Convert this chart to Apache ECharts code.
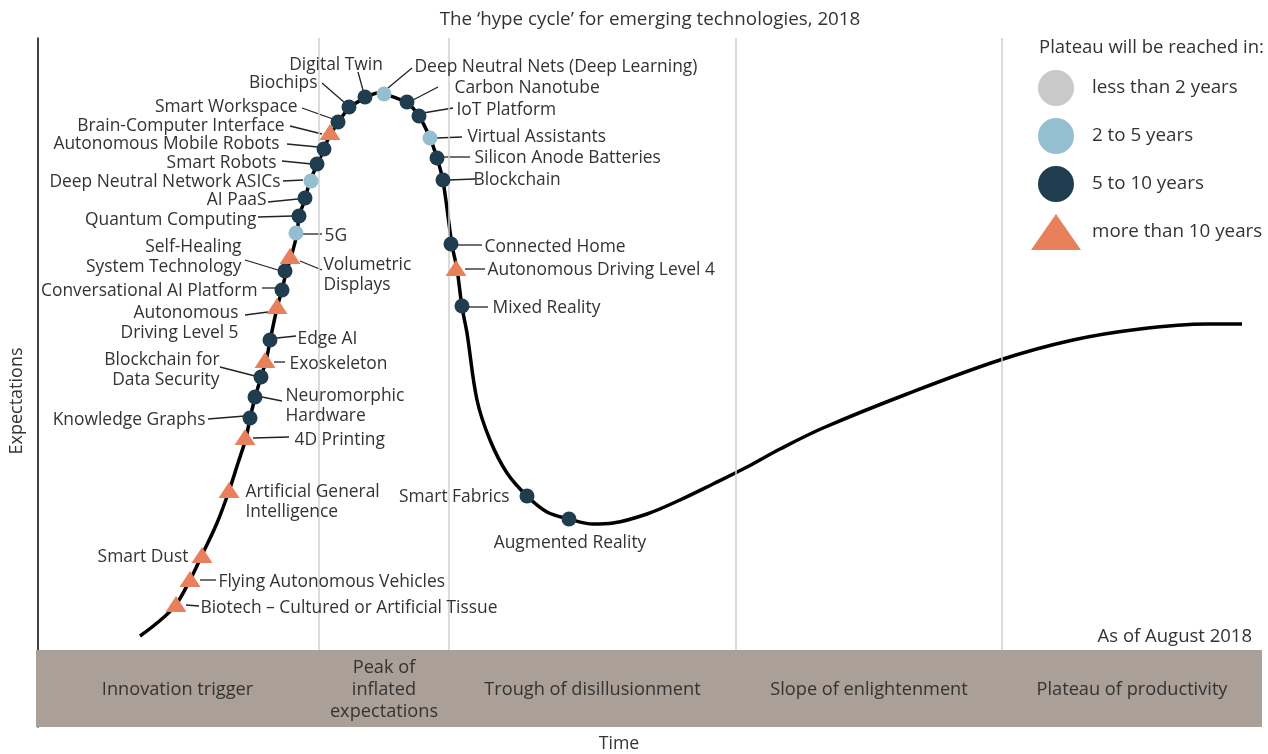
<!DOCTYPE html>
<html>
<head>
<meta charset="utf-8">
<title>Hype cycle 2018</title>
<script src="https://cdn.jsdelivr.net/npm/echarts@6/dist/echarts.min.js"></script>
<style>
html, body { margin: 0; padding: 0; background: #fff; }
#chart { width: 1268px; height: 754px; }
</style>
</head>
<body>
<div id="chart"></div>
<script>
// hype curve (time, expectations)
var curveX = [10.2, 11.9, 13.7, 15.2, 16.4, 17.9, 19.1, 20.0, 20.8, 21.2, 21.7, 22.3, 22.8, 23.2, 23.9, 24.4, 24.8, 25.3, 25.9, 26.1, 26.7, 27.2, 27.9, 28.6, 29.2, 30.0, 31.1, 32.7, 34.0, 34.6, 36.9, 38.1, 39.2, 39.9, 40.5, 41.4, 41.9, 42.4, 42.9, 43.9, 45.2, 46.9, 48.9, 50.9, 53.1, 55.5, 57.5, 60.9, 64.2, 67.5, 70.9, 74.2, 78.5, 86.9, 96.2, 103.5, 110.2, 116.9, 120.4];
var curveY = [1.4, 2.7, 4.4, 7.0, 9.5, 12.7, 15.9, 18.7, 21.2, 23.2, 25.2, 27.3, 28.9, 30.9, 34.2, 36.0, 37.7, 39.3, 41.6, 43.3, 45.1, 46.9, 48.5, 50.1, 51.5, 52.7, 54.2, 55.2, 55.7, 55.6, 54.7, 53.4, 51.2, 49.2, 46.9, 40.5, 38.1, 34.3, 31.7, 25.0, 21.0, 17.7, 15.4, 13.8, 13.1, 12.6, 12.7, 13.6, 15.0, 16.6, 18.3, 20.1, 22.2, 25.6, 29.0, 31.0, 32.1, 32.6, 32.6];

var techNames = [
  'Biotech – Cultured or Artificial Tissue', 'Flying Autonomous Vehicles', 'Smart Dust',
  'Artificial General Intelligence', '4D Printing', 'Knowledge Graphs', 'Neuromorphic Hardware',
  'Blockchain for Data Security', 'Exoskeleton', 'Edge AI', 'Autonomous Driving Level 5',
  'Conversational AI Platform', 'Self-Healing System Technology', 'Volumetric Displays', '5G',
  'Quantum Computing', 'AI PaaS', 'Deep Neutral Network ASICs', 'Smart Robots',
  'Autonomous Mobile Robots', 'Brain-Computer Interface', 'Smart Workspace', 'Biochips',
  'Digital Twin', 'Deep Neutral Nets (Deep Learning)', 'Carbon Nanotube', 'IoT Platform',
  'Virtual Assistants', 'Silicon Anode Batteries', 'Blockchain', 'Connected Home',
  'Autonomous Driving Level 4', 'Mixed Reality', 'Smart Fabrics', 'Augmented Reality'
];
var techX = [13.8, 15.2, 16.4, 19.1, 20.7, 21.2, 21.7, 22.3, 22.7, 23.2, 23.9, 24.4, 24.7, 25.2, 25.8, 26.1, 26.7, 27.3, 27.9, 28.6, 29.2, 30.0, 31.1, 32.7, 34.6, 36.9, 38.1, 39.2, 39.9, 40.5, 41.3, 41.8, 42.4, 48.9, 53.1];
var techY = [4.6, 7.1, 9.5, 16.0, 21.3, 23.2, 25.3, 27.3, 29.0, 31.0, 34.4, 36.0, 37.9, 39.4, 41.7, 43.4, 45.2, 46.9, 48.6, 50.1, 51.8, 52.8, 54.3, 55.3, 55.6, 54.8, 53.4, 51.2, 49.2, 47.0, 40.6, 38.2, 34.4, 15.4, 13.1];
// index into plateauNames
var techPlateau = [3, 3, 3, 3, 3, 2, 2, 2, 3, 2, 3, 2, 2, 3, 1, 2, 2, 1, 2, 2, 3, 2, 2, 2, 1, 2, 2, 1, 2, 2, 2, 3, 2, 2, 2];

var plateauNames = ['less than 2 years', '2 to 5 years', '5 to 10 years', 'more than 10 years'];
var phaseNames = ['Innovation trigger', 'Peak of\ninflated\nexpectations', 'Trough of disillusionment', 'Slope of enlightenment', 'Plateau of productivity'];
var phaseEdges = [-0.2, 28.1, 41.1, 69.8, 96.4, 122.4];

// styles
var FONT = 'Open Sans';
var plateauColors = ['#c9c9c9', '#94bfd0', '#1f3d4e', '#e8805b'];
var plateauSymbols = ['circle', 'circle', 'circle', 'triangle'];
var plateauSizes = [15, 15, 15, [21, 16]];
var LABEL_SHIFT = 2; // Open Sans sits a little high

// label placement: side, gap, dx, dy
var labelPlace = {
  'Biotech – Cultured or Artificial Tissue': ['right', 14, 0, 2],
  'Flying Autonomous Vehicles': ['right', 18, 0, 1],
  'Smart Dust': ['left', 3, 0, 0],
  'Artificial General Intelligence': ['right', 6, 0, 10],
  '4D Printing': ['right', 39, 0, 1],
  'Knowledge Graphs': ['left', 37, 0, 0],
  'Neuromorphic Hardware': ['right', 23, 0, 7],
  'Blockchain for Data Security': ['left', 34, 0, -9],
  'Exoskeleton': ['right', 14, 0, 2],
  'Edge AI': ['right', 20, 0, -3],
  'Autonomous Driving Level 5': ['left', 28, 0, 15],
  'Conversational AI Platform': ['left', 17, 0, -1],
  'Self-Healing System Technology': ['left', 36, 0, -16],
  'Volumetric Displays': ['right', 23, 0, 17],
  '5G': ['right', 21, 0, 1],
  'Quantum Computing': ['left', 35, 0, 2],
  'AI PaaS': ['left', 31, 0, 0],
  'Deep Neutral Network ASICs': ['left', 23, 0, -1],
  'Smart Robots': ['left', 33, 0, -3],
  'Autonomous Mobile Robots': ['left', 37, 0, -7],
  'Brain-Computer Interface': ['left', 35, 0, -8],
  'Smart Workspace': ['left', 33, 0, -17],
  'Biochips': ['left', 24, 0, -26],
  'Digital Twin': ['top', 16, -29, 0],
  'Deep Neutral Nets (Deep Learning)': ['right', 23, 0, -29],
  'Carbon Nanotube': ['right', 40, 0, -16],
  'IoT Platform': ['right', 30, 0, -8],
  'Virtual Assistants': ['right', 30, 0, -3],
  'Silicon Anode Batteries': ['right', 30, 0, -2],
  'Blockchain': ['right', 23, 0, -2],
  'Connected Home': ['right', 26, 0, 1],
  'Autonomous Driving Level 4': ['right', 21, 0, 0],
  'Mixed Reality': ['right', 23, 0, 0],
  'Smart Fabrics': ['left', 10, 0, -1],
  'Augmented Reality': ['bottom', 5, 1, 0]
};
// leader lines, pixel offsets from the marker: x1, y1, x2, y2
var leaders = {
  'Biotech – Cultured or Artificial Tissue': [10, 1, 23, 2],
  'Flying Autonomous Vehicles': [10, 1, 26, 1],
  '4D Printing': [8, 1, 44, 0],
  'Knowledge Graphs': [-5, -2, -42, 1],
  'Neuromorphic Hardware': [7, 0, 27, 4],
  'Blockchain for Data Security': [-6, -1, -41, -10],
  'Exoskeleton': [9, 2, 20, 2],
  'Edge AI': [7, -2, 26, -4],
  'Autonomous Driving Level 5': [-9, 6, -32, 9],
  'Conversational AI Platform': [-6, -2, -20, -2],
  'Self-Healing System Technology': [-7, -1, -40, -11],
  'Volumetric Displays': [10, 5, 32, 14],
  '5G': [7, 1, 26, 1],
  'Quantum Computing': [-6, 0, -41, 1],
  'AI PaaS': [-7, 1, -37, 4],
  'Deep Neutral Network ASICs': [-8, -1, -28, 0],
  'Smart Robots': [-5, 0, -35, -3],
  'Autonomous Mobile Robots': [-6, -2, -37, -5],
  'Brain-Computer Interface': [-8, 2, -40, -6],
  'Smart Workspace': [-5, -3, -36, -14],
  'Biochips': [-4, -4, -27, -24],
  'Digital Twin': [-2, -7, -7, -25],
  'Deep Neutral Nets (Deep Learning)': [4, -6, 28, -26],
  'Carbon Nanotube': [6, -2, 31, -15],
  'IoT Platform': [4, -3, 34, -8],
  'Virtual Assistants': [7, 0, 32, -1],
  'Silicon Anode Batteries': [6, -1, 33, -1],
  'Blockchain': [5, 0, 32, -1],
  'Connected Home': [7, 1, 31, 1],
  'Autonomous Driving Level 4': [9, 1, 29, 1],
  'Mixed Reality': [6, 1, 26, 1]
};
var lineBreaks = {
  'Artificial General Intelligence': 'Artificial General\nIntelligence',
  'Neuromorphic Hardware': 'Neuromorphic\nHardware',
  'Blockchain for Data Security': 'Blockchain for\nData Security',
  'Autonomous Driving Level 5': 'Autonomous\nDriving Level 5',
  'Self-Healing System Technology': 'Self-Healing\nSystem Technology',
  'Volumetric Displays': 'Volumetric\nDisplays'
};

var chart = echarts.init(document.getElementById('chart'));

var markerSeries = plateauNames.map(function (p, g) {
  var data = [];
  techNames.forEach(function (n, i) {
    if (techPlateau[i] !== g) return;
    var lp = labelPlace[n];
    data.push({
      name: n,
      value: [techX[i], techY[i]],
      label: { position: lp[0], distance: lp[1], offset: [lp[2], lp[3] + LABEL_SHIFT] }
    });
  });
  return {
    type: 'scatter',
    name: p,
    data: data,
    symbol: plateauSymbols[g],
    symbolSize: plateauSizes[g],
    itemStyle: { color: plateauColors[g], opacity: 1 },
    label: {
      show: true,
      color: '#333',
      fontFamily: FONT,
      fontSize: 17.4,
      lineHeight: 20,
      formatter: function (params) {
        return lineBreaks[params.name] || params.name;
      }
    },
    silent: true,
    z: 5
  };
});

var option = {
  animation: false,
  grid: { left: 36, right: 6, top: 38, bottom: 27, containLabel: false },
  xAxis: {
    type: 'value', min: -0.2, max: 122.4,
    axisLine: { show: false }, axisTick: { show: false },
    axisLabel: { show: false }, splitLine: { show: false }
  },
  yAxis: {
    type: 'value', min: -7.7, max: 61.2,
    axisLine: { show: true, onZero: true, lineStyle: { color: '#000', width: 1.5 } },
    axisTick: { show: false }, axisLabel: { show: false }, splitLine: { show: false }
  },
  legend: {
    data: plateauNames,
    orient: 'vertical',
    left: 1031,
    top: 70,
    padding: 0,
    itemWidth: 50,
    itemHeight: 36,
    itemGap: 12,
    symbolKeepAspect: false,
    selectedMode: false,
    itemStyle: { borderWidth: 0 },
    textStyle: { color: '#333', fontFamily: FONT, fontSize: 18.8, padding: [4, 0, 0, 6] }
  },
  graphic: [
    { type: 'text', x: 650, y: 20, style: { text: 'The ‘hype cycle’ for emerging technologies, 2018', fill: '#333', fontFamily: FONT, fontSize: 18.8, align: 'center', verticalAlign: 'middle' } },
    { type: 'text', x: 17, y: 401, rotation: Math.PI / 2, style: { text: 'Expectations', fill: '#333', fontFamily: FONT, fontSize: 18, align: 'center', verticalAlign: 'middle' } },
    { type: 'text', x: 619, y: 744, style: { text: 'Time', fill: '#333', fontFamily: FONT, fontSize: 17.7, align: 'center', verticalAlign: 'middle' } },
    { type: 'text', x: 1252, y: 637, style: { text: 'As of August 2018', fill: '#333', fontFamily: FONT, fontSize: 18.5, align: 'right', verticalAlign: 'middle' } },
    { type: 'text', x: 1039, y: 48, style: { text: 'Plateau will be reached in:', fill: '#333', fontFamily: FONT, fontSize: 18.5, align: 'left', verticalAlign: 'middle' } }
  ],
  series: [
    {
      // phase band and phase dividers
      type: 'scatter',
      data: [],
      silent: true,
      z: 1,
      markLine: {
        silent: true,
        symbol: ['none', 'none'],
        label: { show: false },
        lineStyle: { color: '#cfcfcf', width: 1.5, type: 'solid' },
        data: phaseEdges.slice(1, -1).map(function (x) {
          return [{ coord: [x, 0] }, { coord: [x, 61.2] }];
        })
      },
      markArea: {
        silent: true,
        itemStyle: { color: '#aaa097', opacity: 1, borderWidth: 0 },
        label: { show: true, position: 'inside', color: '#333', fontFamily: FONT, fontSize: 18.2, lineHeight: 22, offset: [0, 1] },
        data: phaseNames.map(function (n, i) {
          return [{ name: n, coord: [phaseEdges[i], -7.7] }, { coord: [phaseEdges[i + 1], 0] }];
        })
      }
    },
    {
      type: 'line',
      data: curveX.map(function (x, i) { return [x, curveY[i]]; }),
      smooth: 0.35,
      showSymbol: false,
      silent: true,
      lineStyle: { color: '#000', width: 3.5 },
      z: 3
    },
    {
      // leader lines from each marker to its label
      type: 'custom',
      silent: true,
      z: 4,
      data: techNames.map(function (n, i) { return [techX[i], techY[i], i]; }),
      renderItem: function (params, api) {
        var lead = leaders[techNames[api.value(2)]];
        if (!lead) return null;
        var p = api.coord([api.value(0), api.value(1)]);
        return {
          type: 'line',
          shape: { x1: p[0] + lead[0], y1: p[1] + lead[1], x2: p[0] + lead[2], y2: p[1] + lead[3] },
          style: { stroke: '#222', lineWidth: 1.3 }
        };
      }
    }
  ].concat(markerSeries)
};

chart.setOption(option);
</script>
</body>
</html>
